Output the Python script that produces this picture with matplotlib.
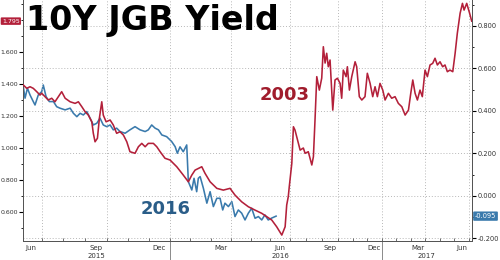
import numpy as np
import matplotlib
matplotlib.use("Agg")
import matplotlib.pyplot as plt
from matplotlib.ticker import FixedLocator, MultipleLocator

plt.rcParams["axes.unicode_minus"] = False

# x values: months since 1 Jun 2015 (0 = Jun 1 2015)
red_month = [0.15, 0.31, 0.46, 0.61, 0.77, 0.92, 1.00, 1.15, 1.30, 1.46, 1.61, 1.77, 1.92, 2.08,
             2.31, 2.54, 2.69, 2.85, 3.00, 3.15, 3.31, 3.38, 3.46, 3.57, 3.66, 3.77, 3.84, 3.97,
             4.16, 4.31, 4.47, 4.63, 4.79, 4.95, 5.10, 5.34, 5.50, 5.66, 5.82, 5.97, 6.21, 6.37,
             6.53, 6.76, 7.00, 7.33, 7.65, 7.90, 8.07, 8.23, 8.56, 8.72, 8.97, 9.30, 9.62, 9.95,
             10.20, 10.54, 10.88, 11.22, 11.56, 11.81, 12.07, 12.32, 12.58, 12.75, 12.83, 12.91,
             12.96, 13.11, 13.21, 13.31, 13.52, 13.63, 13.83, 13.94, 14.14, 14.36, 14.46, 14.56,
             14.67, 14.83, 14.98, 15.08, 15.19, 15.29, 15.39, 15.50, 15.67, 15.81, 15.96, 16.14,
             16.25, 16.36, 16.55, 16.64, 16.78, 16.94, 17.17, 17.28, 17.46, 17.63, 17.85, 18.01,
             18.20, 18.38, 18.54, 18.70, 18.88, 19.07, 19.23, 19.46, 19.69, 19.92, 20.15, 20.39,
             20.62, 20.85, 21.01, 21.15, 21.31, 21.47, 21.65, 21.81, 22.00, 22.16, 22.34, 22.52,
             22.68, 22.84, 23.02, 23.20, 23.36, 23.52, 23.70, 23.89, 24.05, 24.20, 24.39, 24.55,
             24.66, 24.84, 25.02, 25.18]
red_yield = [1.396, 1.375, 1.385, 1.375, 1.354, 1.333, 1.344, 1.323, 1.302, 1.313, 1.291, 1.323,
             1.354, 1.313, 1.291, 1.281, 1.291, 1.260, 1.229, 1.208, 1.166, 1.094, 1.041, 1.063,
             1.188, 1.291, 1.208, 1.166, 1.177, 1.146, 1.094, 1.104, 1.083, 1.041, 0.979, 0.969,
             1.010, 1.031, 1.010, 1.031, 1.031, 1.010, 0.979, 0.938, 0.927, 0.885, 0.833, 0.791,
             0.833, 0.864, 0.885, 0.844, 0.791, 0.750, 0.739, 0.750, 0.708, 0.666, 0.635, 0.614,
             0.594, 0.573, 0.552, 0.510, 0.458, 0.510, 0.646, 0.698, 0.760, 0.906, 1.135, 1.114,
             1.031, 0.989, 1.002, 0.969, 0.979, 0.896, 0.948, 1.177, 1.448, 1.364, 1.439, 1.635,
             1.533, 1.594, 1.510, 1.552, 1.239, 1.427, 1.438, 1.406, 1.313, 1.489, 1.448, 1.510,
             1.364, 1.448, 1.541, 1.510, 1.323, 1.302, 1.323, 1.469, 1.406, 1.323, 1.385, 1.323,
             1.406, 1.364, 1.302, 1.344, 1.313, 1.323, 1.281, 1.260, 1.208, 1.239, 1.344, 1.427,
             1.344, 1.302, 1.364, 1.323, 1.489, 1.448, 1.521, 1.531, 1.563, 1.521, 1.541, 1.510,
             1.521, 1.479, 1.489, 1.479, 1.594, 1.719, 1.844, 1.906, 1.864, 1.906, 1.850, 1.795]

blue_month = [0.15, 0.23, 0.34, 0.46, 0.61, 0.69, 0.84, 1.00, 1.07, 1.20, 1.35, 1.54, 1.69, 1.84,
              2.08, 2.31, 2.46, 2.62, 2.77, 2.92, 3.08, 3.23, 3.38, 3.54, 3.69, 3.84, 4.00, 4.16,
              4.31, 4.47, 4.63, 4.87, 5.10, 5.34, 5.58, 5.82, 5.97, 6.13, 6.29, 6.45, 6.61, 6.84,
              7.08, 7.25, 7.36, 7.49, 7.65, 7.82, 7.90, 8.07, 8.18, 8.31, 8.39, 8.48, 8.64, 8.81,
              8.97, 9.13, 9.30, 9.46, 9.59, 9.70, 9.87, 10.04, 10.20, 10.37, 10.54, 10.71, 10.88,
              11.05, 11.22, 11.39, 11.56, 11.72, 11.89, 12.07, 12.29]
blue_yield = [0.514, 0.460, 0.507, 0.475, 0.444, 0.428, 0.475, 0.491, 0.522, 0.467, 0.444, 0.444,
              0.420, 0.413, 0.405, 0.413, 0.389, 0.373, 0.389, 0.381, 0.397, 0.366, 0.334, 0.342,
              0.366, 0.334, 0.326, 0.334, 0.311, 0.319, 0.303, 0.295, 0.311, 0.326, 0.311, 0.303,
              0.311, 0.334, 0.319, 0.311, 0.287, 0.279, 0.256, 0.232, 0.201, 0.231, 0.208, 0.240,
              0.067, 0.028, 0.083, 0.020, 0.083, 0.091, 0.036, -0.034, 0.020, -0.050, -0.011,
              -0.011, -0.066, -0.034, -0.050, -0.027, -0.097, -0.066, -0.081, -0.113, -0.081,
              -0.058, -0.105, -0.097, -0.113, -0.089, -0.113, -0.104, -0.095]

month_names = ["Jun", "Sep", "Dec", "Mar", "Jun", "Sep", "Dec", "Mar", "Jun"]
month_pos = [0.5, 3.5, 6.5, 9.5, 12.5, 15.5, 18.5, 21.5, 24.5]
years = ["2015", "2016", "2017"]
year_pos = [3.5, 12.5, 22.1]
year_breaks = [7, 19]
quarter_lines = [1, 4, 7, 10, 13, 16, 19, 22, 25]
left_ticks = [0.6, 0.8, 1.0, 1.2, 1.4, 1.6]
right_ticks = [-0.2, 0.0, 0.2, 0.4, 0.6, 0.8]

RED = "#b3203a"
BLUE = "#3a7aac"
GRID = "#b8b8b8"
TXT = "#333333"

# the time axis is squeezed after mid 2016 in the original
knot_m = np.array([0, 1, 4, 7, 10, 13, 16, 19, 22, 25, 26])
knot_u = np.array([20.0, 41.7, 106.7, 170, 231, 290, 338, 381.7, 425, 469, 483.7])


def fwd(m):
    return np.interp(m, knot_m, knot_u)


def inv(u):
    return np.interp(u, knot_u, knot_m)


fig = plt.figure(figsize=(5, 2.6), dpi=100)
ax = fig.add_axes([23.3 / 500, 1 - 241 / 260, 448.4 / 500, 241 / 260])
ax2 = ax.twinx()

ax.set_xscale("function", functions=(fwd, inv))
ax.set_xlim(0.15, 25.18)
ax.set_ylim(0.421, 1.927)
ax2.set_ylim(-0.212, 0.922)

ax.plot(red_month, red_yield, color=RED, lw=1.15, zorder=3)
ax2.plot(blue_month, blue_yield, color=BLUE, lw=1.15, zorder=2)
ax.set_zorder(ax2.get_zorder() + 1)
ax.patch.set_visible(False)

# grid
for q in quarter_lines:
    ax.axvline(q, color=GRID, lw=0.7, ls=(0, (1, 2)), zorder=0)
for h in right_ticks:
    ax2.axhline(h, color=GRID, lw=0.7, ls=(0, (1, 2)), zorder=0)

# spines
for a in (ax, ax2):
    a.spines["top"].set_visible(False)
    for s in ("left", "right", "bottom"):
        a.spines[s].set_color("#555555")
        a.spines[s].set_linewidth(0.7)

# x ticks
ax.xaxis.set_major_locator(FixedLocator(month_pos))
ax.set_xticklabels(month_names)
ax.xaxis.set_minor_locator(FixedLocator(range(0, 26)))
ax.tick_params(axis="x", which="major", length=0, labelsize=5, labelcolor=TXT, pad=3)
ax.tick_params(axis="x", which="minor", length=2, direction="in", color="#555555")

for yl, yp in zip(years, year_pos):
    ax.text(yp, -0.063, yl, transform=ax.get_xaxis_transform(), ha="center", va="center",
            fontsize=5, color=TXT)
for b in year_breaks:
    ax.plot([b, b], [0, -0.09], transform=ax.get_xaxis_transform(), color="#777777",
            lw=0.6, clip_on=False)

# y ticks
ax.yaxis.set_major_locator(FixedLocator(left_ticks))
ax.yaxis.set_minor_locator(MultipleLocator(0.1))
ax.yaxis.set_major_formatter(lambda v, p: f"{v:.3f}")
ax.tick_params(axis="y", which="major", length=3, width=0.8, labelsize=4.5, labelcolor=TXT, pad=1)
ax.tick_params(axis="y", which="minor", length=1.5, width=0.6)
ax2.yaxis.set_major_locator(FixedLocator(right_ticks))
ax2.yaxis.set_minor_locator(MultipleLocator(0.1))
ax2.yaxis.set_major_formatter(lambda v, p: f"{v:.3f}")
ax2.tick_params(axis="y", which="major", length=3, width=0.8, labelsize=4.8, labelcolor=TXT, pad=1)
ax2.tick_params(axis="y", which="minor", length=1.5, width=0.6)

# last value boxes
ax.text(-0.008, red_yield[-1], f"{red_yield[-1]:.3f}", transform=ax.get_yaxis_transform(),
        ha="right", va="center", fontsize=4.5, color="white",
        bbox=dict(boxstyle="round,pad=0.2,rounding_size=0.15", fc=RED, ec="none"), zorder=5)
ax2.text(1.007, blue_yield[-1], f"{blue_yield[-1]:.3f}", transform=ax2.get_yaxis_transform(),
         ha="left", va="center", fontsize=4.8, color="white",
         bbox=dict(boxstyle="round,pad=0.25,rounding_size=0.15", fc=BLUE, ec="none"), zorder=5)

# annotations
ax.text(284.7 / 500, 1 - 95 / 260, "2003", transform=fig.transFigure, ha="center", va="center",
        fontsize=13, fontweight="bold", color="#a01c2c", family="DejaVu Sans")
ax.text(166 / 500, 1 - 209 / 260, "2016", transform=fig.transFigure, ha="center", va="center",
        fontsize=13, fontweight="bold", color="#2a5d88", family="DejaVu Sans")

fig.text(26 / 500, 1 - 4 / 260, "10Y JGB Yield", ha="left", va="top", fontsize=24,
         fontweight="bold", color="black", family="DejaVu Sans")

fig.savefig("out.png", dpi=100)
